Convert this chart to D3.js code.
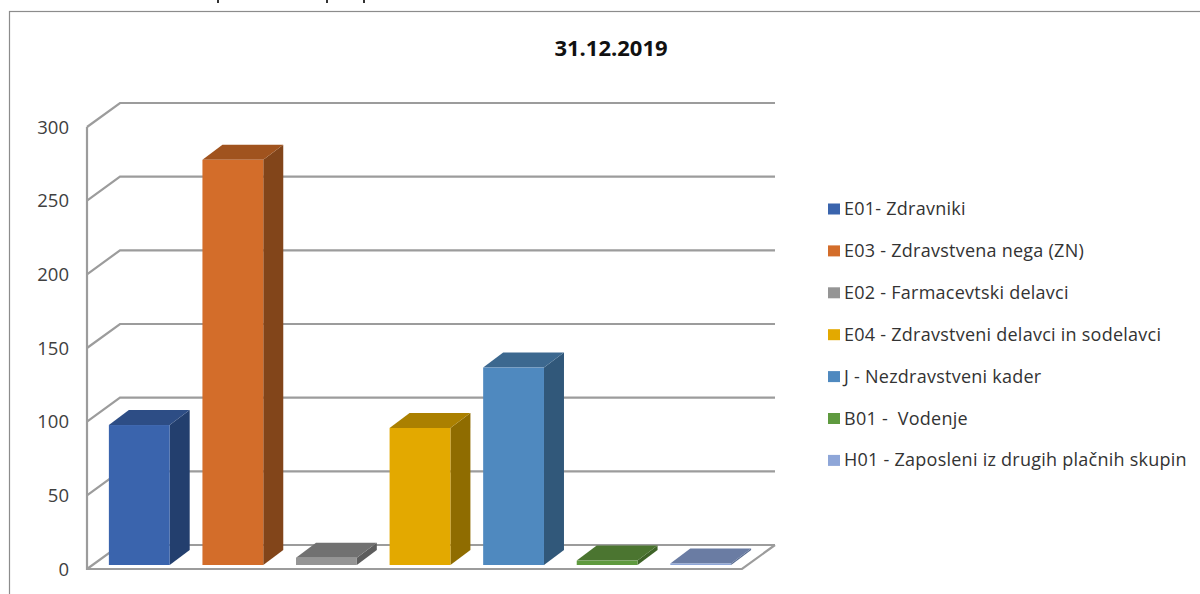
<!DOCTYPE html>
<html><head><meta charset="utf-8">
<script src="https://cdn.jsdelivr.net/npm/d3@7"></script>
<style>html,body{margin:0;background:#fff}svg{display:block}text{font-family:"Open Sans","Noto Sans",sans-serif}</style>
</head><body><svg id="c" width="1200" height="594"></svg>
<script>
const title = "31.12.2019";
const categories = ["E01- Zdravniki","E03 - Zdravstvena nega (ZN)","E02 - Farmacevtski delavci","E04 - Zdravstveni delavci in sodelavci","J - Nezdravstveni kader","B01 -  Vodenje","H01 - Zaposleni iz drugih plačnih skupin"];
const values = [95,275,5,93,134,3,1];
const frontColors = ["#3a64ad","#d36d2a","#959595","#e3a900","#4f89bf","#5f9a3f","#8ea6d8"];
const topColors = ["#2d4d85","#a0531e","#717171","#ab8000","#3c688f","#4b7530","#6a7ca3"];
const sideColors = ["#233f6e","#82451a","#5d5d5d","#8f6c00","#31587a","#3e6327","#566a8f"];
const yTicks = [0,50,100,150,200,250,300];
const clippedStrokes = [218,327,364];

const svg = d3.select("#c");
const y = d3.scaleLinear().domain([0,300]).range([569,127]);
const x = d3.scaleBand().domain(categories).range([87,742]).paddingInner(0.35).paddingOuter(0.175);
const DX = 33, DY = 24, BX = 5.5, BY = 4, BARX = 20, BARY = 15;
const grid = "#9c9c9c";

svg.append("g").selectAll("line").data(clippedStrokes).join("line")
  .attr("x1",d=>d).attr("x2",d=>d).attr("y1",0).attr("y2",3).attr("stroke","#333").attr("stroke-width",2);

svg.append("rect").attr("x",9.5).attr("y",11.5).attr("width",1300).attr("height",700).attr("fill","none").attr("stroke","#8c8c8c").attr("stroke-width",1.2);

const lineG = svg.append("g").attr("fill","none").attr("stroke",grid).attr("stroke-width",2.2);
lineG.selectAll("path.g").data(yTicks).join("path").attr("class","g")
  .attr("d",d=>`M${x.range()[0]},${y(d)}L${x.range()[0]+DX},${y(d)-DY}L${x.range()[1]+DX},${y(d)-DY}`);
lineG.append("path").attr("d",`M${x.range()[0]},${y(300)}V${y(0)}H${x.range()[1]}L${x.range()[1]+DX},${y(0)-DY}`);

svg.append("g").selectAll("text").data(yTicks).join("text")
  .attr("x",69).attr("y",d=>y(d)+6.5).attr("text-anchor","end").attr("font-size",18.5).attr("fill","#404040").text(d=>d);

const bars = svg.append("g").selectAll("g").data(categories).join("g");
const X0 = c=>x(c)+BX, W = x.bandwidth(), B = y(0)-BY;
const barTop = (i)=>B-(y(0)-y(values[i]));
bars.append("path").attr("fill",(d,i)=>sideColors[i])
  .attr("d",(c,i)=>`M${X0(c)+W},${barTop(i)}l${BARX},${-BARY}V${B-BARY}l${-BARX},${BARY}Z`);
bars.append("path").attr("fill",(d,i)=>topColors[i])
  .attr("d",(c,i)=>`M${X0(c)},${barTop(i)}l${BARX},${-BARY}h${W}l${-BARX},${BARY}Z`);
bars.append("rect").attr("fill",(d,i)=>frontColors[i])
  .attr("x",c=>X0(c)).attr("width",W).attr("y",(c,i)=>barTop(i)).attr("height",(c,i)=>B-barTop(i));

svg.append("text").attr("x",611).attr("y",56).attr("text-anchor","middle").attr("font-size",22).attr("font-weight",700).attr("fill","#111").text(title);

const leg = svg.append("g").selectAll("g").data(categories).join("g").attr("transform",(d,i)=>`translate(828,${209+i*41.9})`);
leg.append("rect").attr("x",0).attr("y",-5.5).attr("width",12).attr("height",11).attr("fill",(d,i)=>frontColors[i]);
leg.append("text").attr("x",16).attr("y",6).attr("font-size",18).attr("letter-spacing",0.25).attr("fill","#333").style("white-space","pre").text(d=>d);
</script></body></html>
